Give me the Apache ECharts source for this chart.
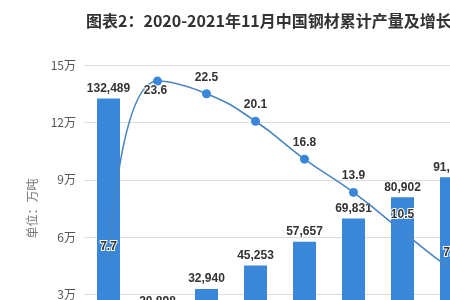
<!DOCTYPE html>
<html><head><meta charset="utf-8">
<script src="https://cdn.jsdelivr.net/npm/echarts@6/dist/echarts.min.js"></script>
<style>html,body{margin:0;padding:0;background:#fff}#c{width:450px;height:300px}</style>
</head><body><div id="c"></div>
<script>
const categories = ['2020年','2021年1-2月','1-3月','1-4月','1-5月','1-6月','1-7月','1-8月','1-9月','1-10月','1-11月'];
const outputValues = [132489, 20898, 32940, 45253, 57657, 69831, 80902, 91348, 101563, 111016, 122254];
const growthValues = [7.7, 23.6, 22.5, 20.1, 16.8, 13.9, 10.5, 7.2, 4.6, 3.1, 2.0];
const leftTicks = ['0','3万','6万','9万','12万','15万'];

const chart = echarts.init(document.getElementById('c'));
const lblFont = 'Arial, "Liberation Sans", "Noto Sans CJK SC", sans-serif';
chart.setOption({
  animation: false,
  title: {
    text: '图表2：2020-2021年11月中国钢材累计产量及增长情况',
    left: 81, top: 8,
    textStyle: { fontSize: 16, fontWeight: 'bold', color: '#333', fontFamily: '"Noto Sans CJK SC", sans-serif' }
  },
  grid: { left: 84, top: 65, width: 539, height: 287, containLabel: false, outerBoundsMode: 'none' },
  xAxis: {
    type: 'category', data: categories,
    axisTick: { show: false }, axisLine: { lineStyle: { color: '#ccc' } },
    axisLabel: { color: '#555' }
  },
  yAxis: [{
    type: 'value', min: 0, max: 150000, interval: 30000,
    name: '单位：万吨', nameLocation: 'middle', nameGap: 46, nameRotate: 90,
    nameTextStyle: { color: '#777', fontSize: 12, fontFamily: '"Noto Sans CJK SC", sans-serif' },
    axisLine: { show: false }, axisTick: { show: false },
    axisLabel: { color: '#555', fontSize: 12, fontFamily: '"Noto Sans CJK SC", sans-serif',
      formatter: v => leftTicks[Math.round(v / 30000)] },
    splitLine: { lineStyle: { color: '#ddd' } }
  }, {
    type: 'value', min: 0, max: 25, interval: 5, show: false, splitLine: { show: false }
  }],
  series: [{
    type: 'bar', data: outputValues, barWidth: 23,
    itemStyle: { color: '#3a87d9' },
    label: { show: true, position: 'top', distance: 4, color: '#333', fontSize: 12, fontWeight: 'bold',
      fontFamily: lblFont, formatter: p => p.value.toLocaleString('en-US') }
  }, {
    type: 'line', yAxisIndex: 1, data: growthValues, smooth: true,
    symbol: 'circle', symbolSize: 9,
    lineStyle: { color: '#4a86c0', width: 1.6 },
    itemStyle: { color: '#3a87d9' },
    label: { show: true, position: 'top', distance: 6, color: '#333', fontSize: 12, fontWeight: 'bold',
      fontFamily: lblFont, textBorderColor: '#fff', textBorderWidth: 2 },
    labelLayout: (p) => p.dataIndex === 1 ? { dy: 26, dx: -2 } : {}
  }]
});
</script></body></html>
